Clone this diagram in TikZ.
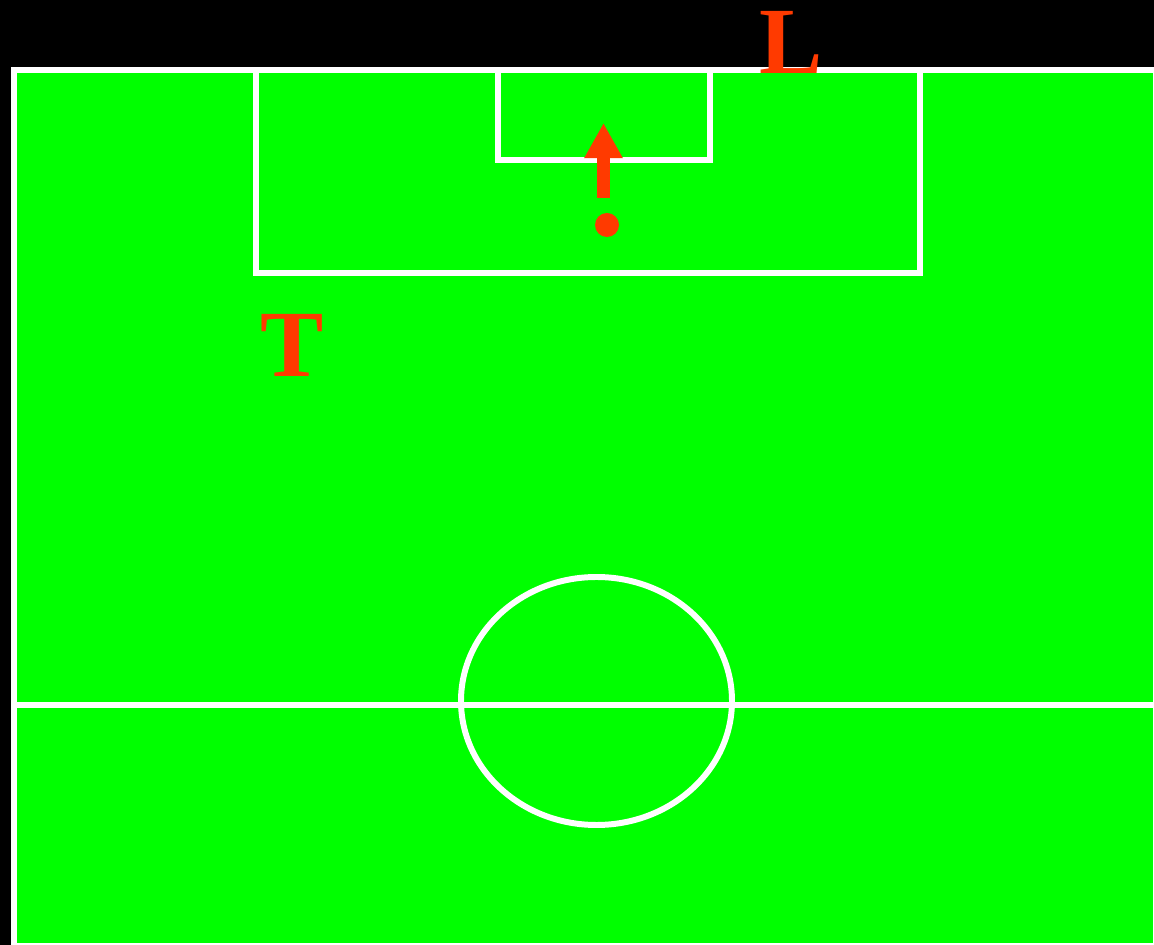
\documentclass[tikz,border=0pt]{standalone}
\usepackage{fontspec}
\setmainfont{Liberation Serif}
\usepackage{tikz}
\usetikzlibrary{
  arrows.meta,  % Triangle 箭头
  positioning   % 节点相对定位
}
\definecolor{pitchgreen}{RGB}{0,255,0}
\definecolor{markred}{RGB}{255,58,0}

\begin{document}
\begin{tikzpicture}[>=Stealth, x=0.02cm, y=-0.02cm]
  % 画面以像素为单位（y 轴向下）
  \def\lw{3.4pt}
  \def\fieldL{14}
  \def\fieldT{70}
  \def\fieldR{1156}
  \def\fieldB{946}

  % 背景
  \useasboundingbox (0,0) rectangle (1154,945);
  \fill[black] (0,0) rectangle (1154,945);

  % 1. 球场（绿色）与边线
  \filldraw[fill=pitchgreen, draw=white, line width=\lw]
    (\fieldL,\fieldT) rectangle (\fieldR,\fieldB);

  % 罚球区与球门区
  \draw[white, line width=\lw] (256,\fieldT) |- (920,273) -- (920,\fieldT);
  \draw[white, line width=\lw] (498,\fieldT) |- (710,160) -- (710,\fieldT);

  % 中线与中圈
  \coordinate (C) at (596.5,701);
  \draw[white, line width=2.9pt] (\fieldL,705) -- (\fieldR,705);
  \draw[white, line width=\lw] (C) ellipse [x radius=135.5, y radius=124];

  % 2. 球与移动方向（红色）
  \coordinate (ball) at (607,225);
  \coordinate (start) at (603.5,198);
  \coordinate (tip) at (603.5,123);
  \fill[markred] (ball) circle (12);
  \draw[markred, line width=7.4pt,
    -{Triangle[width=20.5pt, length=20pt]}] (start) -- (tip);

  % 3. 标注
  \node[markred, font=\fontsize{54}{54}\selectfont\bfseries, inner sep=0pt]
    (L) at (791,42) {L};
  \node[markred, font=\fontsize{54}{54}\selectfont\bfseries, inner sep=0pt]
    (T) at (292,345) {T};

\end{tikzpicture}
\end{document}
